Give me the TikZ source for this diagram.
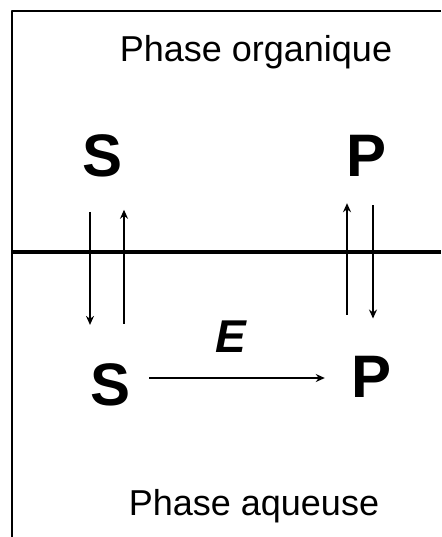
\documentclass[tikz,border=0pt]{standalone}
\usepackage{fontspec}
\setmainfont{Liberation Sans}
\usetikzlibrary{arrows.meta}
\begin{document}
\begin{tikzpicture}[x=1pt, y=-1pt, line join=round, >={Stealth[length=9pt,width=8pt]},
	espece/.style={font=\fontsize{60}{60}\selectfont\bfseries, inner sep=0pt, anchor=base},
	phase/.style={font=\fontsize{36}{36}\selectfont, inner sep=0pt, anchor=base},
	fl/.style={->, line width=2pt}]
	\useasboundingbox (0,0) rectangle (441,537);
	% Cadre et interface
	\draw[line width=2.8pt] (12,537) -- (12,11) -- (441,11);
	\draw[line width=3.2pt] (12,252) -- (441,252);
	% Textes
	\node[phase] (org) at (256,62) {Phase organique};
	\node[phase] (aq) at (254,515) {Phase aqueuse};
	\node[espece] (So) at (103,177) {S};
	\node[espece] (Po) at (367,177) {P};
	\node[espece] (Sa) at (111,405) {S};
	\node[espece] (Pa) at (372,397) {P};
	\node[espece, font=\fontsize{46}{46}\selectfont\bfseries\itshape] (E) at (231,352) {E};
	% Transferts entre les phases
	\coordinate (s1) at ([xshift=-13pt]So.south);
	\coordinate (s2) at ([xshift=21pt]So.south);
	\coordinate (p1) at ([xshift=-20pt]Po.south);
	\coordinate (p2) at ([xshift=6pt]Po.south);
	\coordinate (h) at (0,378);
	\draw[fl, shorten <=34pt, shorten >=38pt] (s1) -- (s1 |- Sa.north);
	\draw[fl, shorten <=39pt, shorten >=32pt] (s2 |- Sa.north) -- (s2);
	\draw[fl, shorten <=41pt, shorten >=26pt] (p1 |- Pa.north) -- (p1);
	\draw[fl, shorten <=28pt, shorten >=37pt] (p2) -- (p2 |- Pa.north);
	% Réaction enzymatique
	\draw[->, line width=1.6pt, shorten <=18pt, shorten >=27pt] (Sa.east |- h) -- (Pa.west |- h);
\end{tikzpicture}
\end{document}
